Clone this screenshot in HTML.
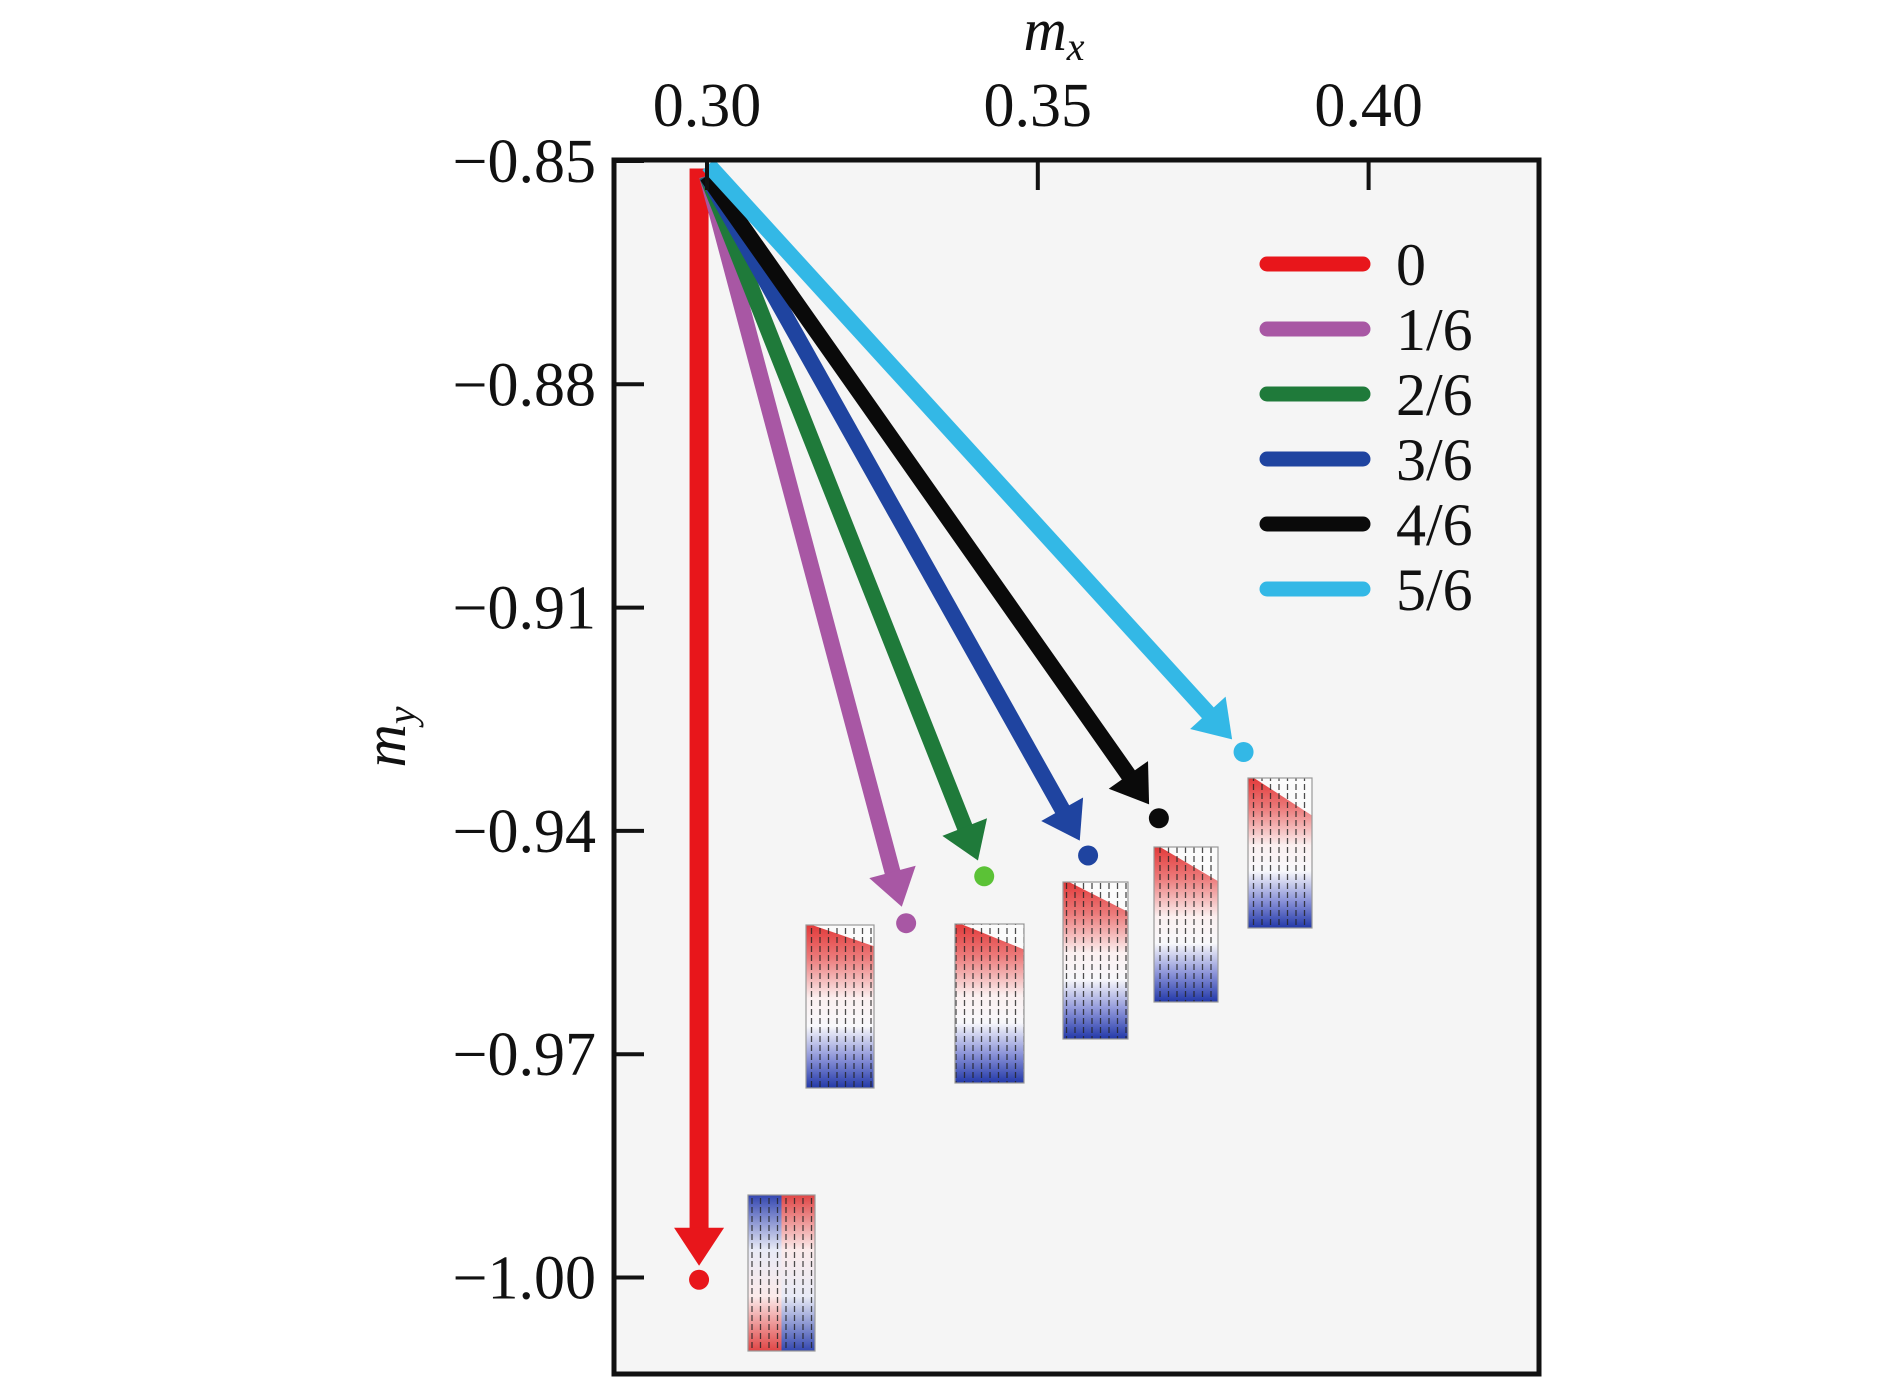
<!DOCTYPE html>
<html><head><meta charset="utf-8"><style>
body{margin:0;background:#fff;}
svg{display:block;}
text{font-family:"Liberation Serif",serif;fill:#111;}
</style></head><body>
<svg id="chart" width="1890" height="1394" viewBox="0 0 1890 1394" xmlns="http://www.w3.org/2000/svg">
<defs>
 <linearGradient id="gTop" x1="0" y1="0" x2="0" y2="1">
  <stop offset="0" stop-color="#e23a3a"/><stop offset="0.2" stop-color="#ec7a7a"/>
  <stop offset="0.45" stop-color="#fbf0f0"/><stop offset="0.62" stop-color="#f8f8fb"/>
  <stop offset="0.82" stop-color="#8a92d8"/><stop offset="1" stop-color="#2238a8"/>
 </linearGradient>
 <linearGradient id="gL" x1="0" y1="0" x2="0" y2="1">
  <stop offset="0" stop-color="#3346b0"/><stop offset="0.35" stop-color="#e8eaf6"/>
  <stop offset="0.65" stop-color="#fbeaea"/><stop offset="1" stop-color="#e04545"/>
 </linearGradient>
 <linearGradient id="gR" x1="0" y1="0" x2="0" y2="1">
  <stop offset="0" stop-color="#e04545"/><stop offset="0.35" stop-color="#fbeaea"/>
  <stop offset="0.65" stop-color="#e8eaf6"/><stop offset="1" stop-color="#3346b0"/>
 </linearGradient>
 <pattern id="arrows" width="8.5" height="9" patternUnits="userSpaceOnUse">
  <line x1="4" y1="1" x2="4" y2="7" stroke="#222" stroke-width="1.3"/>
 </pattern>
</defs>
<rect x="614" y="160" width="925" height="1214" fill="#f5f5f5"/>
<g id="insets"></g>
<g id="series"></g>
<rect x="614" y="160" width="925" height="1214" fill="none" stroke="#111" stroke-width="5"/>
<g id="axes"></g>
<text x="1054" y="50" font-size="60" font-style="italic" text-anchor="middle">m<tspan font-size="40" dy="10">x</tspan></text>
<text transform="translate(405,737) rotate(-90)" font-size="60" font-style="italic" text-anchor="middle">m<tspan font-size="40" dy="10">y</tspan></text>
<g id="legend"></g>
</svg>
<script>
const xTicks=[0.30,0.35,0.40];
const xTickLabels=["0.30","0.35","0.40"];
const yTicks=[-0.85,-0.88,-0.91,-0.94,-0.97,-1.00];
const yTickLabels=["\u22120.85","\u22120.88","\u22120.91","\u22120.94","\u22120.97","\u22121.00"];
const seriesNames=["0","1/6","2/6","3/6","4/6","5/6"];
const seriesColors=["#e8161b","#a857a4","#1f7a3a","#1f44a0","#0a0a0a","#33b8e6"];
const dotColors=["#e8161b","#a857a4","#5bc236","#1f44a0","#0a0a0a","#33b8e6"];
const startMx=[0.2988,0.3000,0.3000,0.3000,0.3000,0.3002];
const startMy=[-0.8510,-0.8520,-0.8520,-0.8520,-0.8520,-0.8505];
const endMx=[0.2988,0.3301,0.3419,0.3576,0.3683,0.3811];
const endMy=[-1.0003,-0.9524,-0.9461,-0.9433,-0.9383,-0.9294];
// inset image layout boxes (x, y, w, h) — illustrations, not data
const insetBoxes=[[748,1195,67,156],[806,925,68,163],[955,924,69,159],[1063,882,65,157],[1154,847,64,155],[1248,778,64,150]];
const NS="http://www.w3.org/2000/svg";
const X=v=>707+(v-0.30)/0.05*330.8;
const Y=v=>161+(-0.85-v)/0.03*223.3;
function mk(t,a,p){const e=document.createElementNS(NS,t);for(const k in a)e.setAttribute(k,a[k]);p.appendChild(e);return e;}
const axes=document.getElementById('axes');
xTicks.forEach((v,i)=>{
 const l=mk('line',{x1:X(v),x2:X(v),y1:160,y2:190,stroke:'#111','stroke-width':4},axes);
 
 
 const t=mk('text',{x:X(v),y:126,'font-size':62,'text-anchor':'middle'},axes);
 t.textContent=xTickLabels[i];
 
 
});
yTicks.forEach((v,i)=>{
 const l=mk('line',{x1:614,x2:644,y1:Y(v),y2:Y(v),stroke:'#111','stroke-width':4},axes);
 
 
 const t=mk('text',{x:596,y:Y(v)+21,'font-size':62,'text-anchor':'end'},axes);
 t.textContent=yTickLabels[i];
 
 
});
const ins=document.getElementById('insets');
insetBoxes.forEach((b,i)=>{
 const [x,y,w,h]=b;
 const g=mk('g',{},ins);
 
 
 if(i==0){
  mk('rect',{x:x,y:y,width:w/2,height:h,fill:'url(#gL)'},g);
  mk('rect',{x:x+w/2,y:y,width:w/2,height:h,fill:'url(#gR)'},g);
 }else{
  mk('rect',{x:x,y:y,width:w,height:h,fill:'url(#gTop)'},g);
  const d=h*(0.1+0.03*i);
  mk('polygon',{points:`${x+6},${y} ${x+w},${y} ${x+w},${y+d}`,fill:'#fbfbfb'},g);
 }
 mk('rect',{x:x,y:y,width:w,height:h,fill:'url(#arrows)',opacity:0.8},g);
 mk('rect',{x:x,y:y,width:w,height:h,fill:'none',stroke:'#999','stroke-width':1.2},g);
});
const sg=document.getElementById('series');
endMx.forEach((v,i)=>{
 const x0=X(startMx[i]),y0=Y(startMy[i]),x1=X(v),y1=Y(endMy[i]);
 const dx=x1-x0,dy=y1-y0,L=Math.hypot(dx,dy),ux=dx/L,uy=dy/L;
 const gap=i==0?14:17, tipx=x1-ux*gap, tipy=y1-uy*gap;
 const hl=i==0?38:36, hw=i==0?25:24;
 const bx=tipx-ux*hl, by=tipy-uy*hl;
 const g=mk('g',{},sg);
 
 
 mk('line',{x1:x0,y1:y0,x2:bx+ux*4,y2:by+uy*4,stroke:seriesColors[i],'stroke-width':i==0?19:16},g);
 mk('polygon',{points:`${tipx},${tipy} ${bx-uy*hw},${by+ux*hw} ${bx+uy*hw},${by-ux*hw}`,fill:seriesColors[i]},g);
 const c=mk('circle',{cx:x1,cy:y1,r:10,fill:dotColors[i]},g);
 
 
});
const lg=document.getElementById('legend');
seriesNames.forEach((n,i)=>{
 const y=264+i*65;
 const l=mk('line',{x1:1267,x2:1363,y1:y,y2:y,stroke:seriesColors[i],'stroke-width':15,'stroke-linecap':'round'},lg);
 
 
 const t=mk('text',{x:1396,y:y+21,'font-size':60},lg);
 t.textContent=n;
 
 
});
</script>
</body></html>
